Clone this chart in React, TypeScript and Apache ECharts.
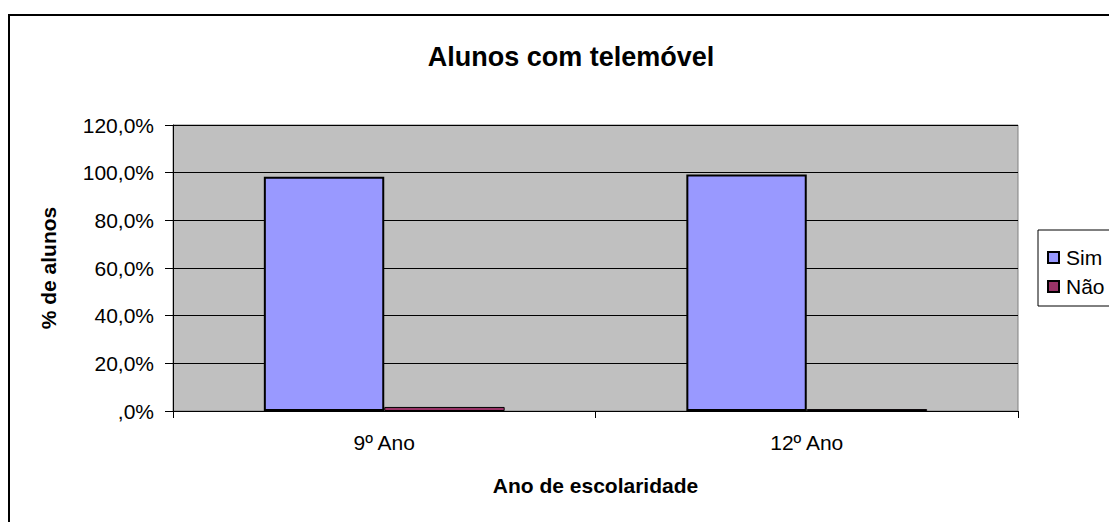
import React, { useEffect, useRef } from "react";
import * as echarts from "echarts";

const categories = ["9º Ano", "12º Ano"];
const simValues = [98.3, 99.2];
const naoValues = [1.7, 0.8];
const seriesNames = ["Sim", "Não"];

const FONT = "'Liberation Sans', Arial, sans-serif";

export default function App() {
  const ref = useRef<HTMLDivElement>(null);
  useEffect(() => {
    const chart = echarts.init(ref.current!, null, { renderer: "svg" });
    chart.setOption({
      animation: false,
      backgroundColor: "#ffffff",
      textStyle: { fontFamily: FONT },
      title: {
        text: "Alunos com telemóvel",
        left: 566,
        top: 38,
        textAlign: "center",
        textStyle: { fontFamily: FONT, fontSize: 27, fontWeight: "bold", color: "#000" },
      },
      graphic: [
        {
          type: "rect",
          shape: { x: 9, y: 15, width: 1300, height: 700 },
          style: { fill: "none", stroke: "#000", lineWidth: 2 },
          silent: true,
          z: 100,
        },
      ],
      legend: {
        orient: "vertical",
        left: 1038,
        top: 230,
        padding: [17, 60, 9, 9],
        itemGap: 8,
        itemWidth: 11,
        itemHeight: 11,
        borderColor: "#000",
        borderWidth: 1,
        backgroundColor: "#fff",
        icon: "rect",
        data: seriesNames,
        textStyle: { fontFamily: FONT, fontSize: 21, color: "#000", lineHeight: 21, padding: [0, 0, 0, 2] },
      },
      grid: {
        left: 173,
        right: 91,
        top: 125,
        bottom: 111,
        show: true,
        backgroundColor: "#C0C0C0",
        borderColor: "#808080",
        borderWidth: 1,
        containLabel: false,
      },
      xAxis: {
        type: "category",
        data: categories,
        name: "Ano de escolaridade",
        nameLocation: "middle",
        nameGap: 64,
        nameTextStyle: { fontFamily: FONT, fontSize: 21, fontWeight: "bold", color: "#000" },
        axisLine: { lineStyle: { color: "#000", width: 1 } },
        axisTick: { show: true, length: 7, lineStyle: { color: "#000" } },
        axisLabel: { fontFamily: FONT, fontSize: 21, color: "#000", margin: 21 },
      },
      yAxis: {
        type: "value",
        min: 0,
        max: 120,
        interval: 20,
        name: "% de alunos",
        nameLocation: "middle",
        nameGap: 114,
        nameTextStyle: { fontFamily: FONT, fontSize: 21, fontWeight: "bold", color: "#000" },
        axisLine: { show: true, lineStyle: { color: "#000", width: 1 } },
        axisTick: { show: true, length: 8, lineStyle: { color: "#000" } },
        axisLabel: {
          fontFamily: FONT,
          fontSize: 21,
          color: "#000",
          margin: 19,
          formatter: (v: number) => (v === 0 ? ",0%" : v.toFixed(1).replace(".", ",") + "%"),
        },
        splitLine: { show: true, lineStyle: { color: "#000", width: 1 } },
      },
      series: [
        {
          name: seriesNames[0],
          type: "bar",
          data: simValues,
          barGap: "0%",
          barCategoryGap: "43%",
          itemStyle: { color: "#9999FF", borderColor: "#000", borderWidth: 2 },
        },
        {
          name: seriesNames[1],
          type: "bar",
          data: naoValues,
          itemStyle: { color: "#993366", borderColor: "#000", borderWidth: 1 },
        },
      ],
    });
    return () => chart.dispose();
  }, []);
  return <div ref={ref} style={{ width: 1109, height: 522, position: "absolute", left: 0, top: 0 }} />;
}
